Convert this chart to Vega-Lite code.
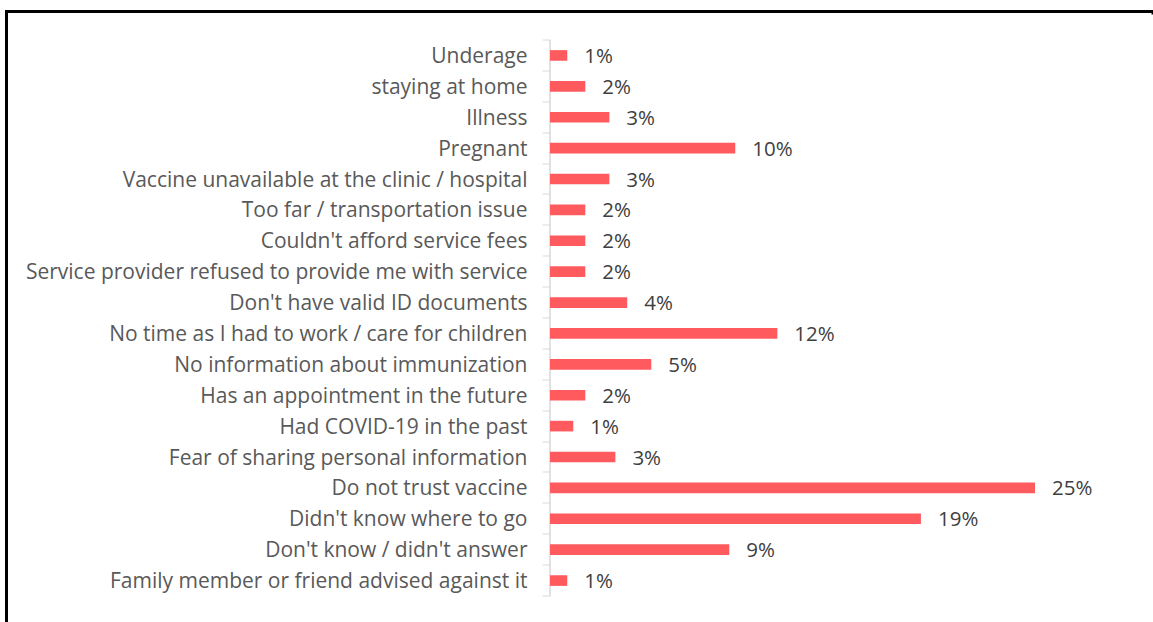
{
  "$schema": "https://vega.github.io/schema/vega-lite/v6.json",
  "autosize": {"type": "none"},
  "width": 1146.5,
  "height": 610.5,
  "padding": {"left": 6.5, "top": 11.5, "right": 0, "bottom": 0},
  "background": "white",
  "view": {"stroke": "black", "strokeWidth": 3, "strokeDash": [1148, 1756, 612, 0], "strokeCap": "square"},
  "data": {
    "values": [
      {"reason": "Underage", "share": 0.0089},
      {"reason": "staying at home", "share": 0.0182},
      {"reason": "Illness", "share": 0.0306},
      {"reason": "Pregnant", "share": 0.0955},
      {"reason": "Vaccine unavailable at the clinic / hospital", "share": 0.0306},
      {"reason": "Too far / transportation issue", "share": 0.0182},
      {"reason": "Couldn't afford service fees", "share": 0.0182},
      {"reason": "Service provider refused to provide me with service", "share": 0.0182},
      {"reason": "Don't have valid ID documents", "share": 0.0398},
      {"reason": "No time as I had to work / care for children", "share": 0.1172},
      {"reason": "No information about immunization", "share": 0.0522},
      {"reason": "Has an appointment in the future", "share": 0.0182},
      {"reason": "Had COVID-19 in the past", "share": 0.012},
      {"reason": "Fear of sharing personal information", "share": 0.0337},
      {"reason": "Do not trust vaccine", "share": 0.25},
      {"reason": "Didn't know where to go", "share": 0.1912},
      {"reason": "Don't know / didn't answer", "share": 0.0924},
      {"reason": "Family member or friend advised against it", "share": 0.0089}
    ]
  },
  "encoding": {
    "y": {
      "field": "reason",
      "type": "nominal",
      "sort": null,
      "scale": {"paddingInner": 0, "paddingOuter": 0.882, "align": 0.523},
      "axis": {
        "title": null,
        "domain": false,
        "grid": false,
        "offset": -543.5,
        "bandPosition": 1,
        "tickExtra": true,
        "tickColor": "#d9d9d9",
        "tickSize": 8,
        "tickWidth": 1,
        "labelPadding": 15,
        "labelOffset": 1.5,
        "labelFont": "Open Sans",
        "labelFontSize": 21,
        "labelColor": "#595959",
        "labelLimit": 0
      }
    }
  },
  "layer": [
    {
      "mark": {"type": "rect", "stroke": "#d9d9d9", "strokeWidth": 1, "fill": null},
      "encoding": {
        "x": {"datum": 0, "type": "quantitative", "scale": {"domain": [-0.28015, 0.31082], "nice": false, "zero": false}, "axis": null},
        "x2": {"datum": 0}
      }
    },
    {
      "mark": {"type": "bar", "color": "#FF5B5F", "height": {"band": 0.345}},
      "encoding": {
        "x": {"field": "share", "type": "quantitative"}
      }
    },
    {
      "mark": {"type": "text", "align": "left", "baseline": "middle", "dx": 17, "dy": 1.5, "font": "Open Sans", "fontSize": 20.5, "color": "#404040"},
      "encoding": {
        "x": {"field": "share", "type": "quantitative"},
        "text": {"field": "share", "type": "quantitative", "format": ".0%"}
      }
    }
  ]
}
